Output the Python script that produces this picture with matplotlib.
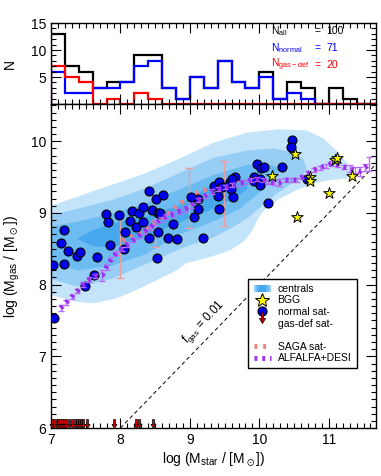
import numpy as np
import matplotlib
matplotlib.use('Agg')
import matplotlib.pyplot as plt
from matplotlib.path import Path
from matplotlib.patches import Rectangle
from matplotlib.lines import Line2D
from matplotlib.legend_handler import HandlerBase
from matplotlib.ticker import MultipleLocator

plt.rcParams['font.family'] = ['Liberation Sans', 'DejaVu Sans']
plt.rcParams['mathtext.default'] = 'regular'
plt.rcParams['mathtext.fontset'] = 'dejavusans'

#%% histogram counts (bins of 0.2 dex starting at 7.0)
n_all = [13, 7, 6, 3, 4, 4, 9, 9, 3, 1, 5, 3, 8, 4, 3, 6, 1, 4, 3, 0, 3, 1, 0, 0]
n_normal = [6, 2, 2, 3, 3, 4, 7, 8, 3, 1, 5, 3, 8, 4, 3, 5, 1, 2, 1, 0, 0, 0, 0, 0]
n_gasdef = [7, 5, 4, 0, 1, 0, 2, 1, 0, 0, 0, 0, 0, 0, 0, 0, 0, 0, 0, 0, 0, 0, 0, 0]

#%% centrals density (contour outlines, outer -> inner)
cen1_x = [6.9, 7.0, 7.39, 7.87, 8.35, 8.83, 9.34, 9.82, 10.29, 10.68, 10.92, 11.11, 11.25, 11.35, 11.38,
          11.25, 11.01, 10.77, 10.54, 10.29, 10.05, 9.96, 9.89, 9.77, 9.58, 9.34, 8.95, 8.81, 8.33, 7.95,
          7.63, 7.39, 7.0, 6.9]
cen1_y = [9.07, 9.10, 9.23, 9.39, 9.55, 9.75, 9.98, 10.12, 10.17, 10.15, 10.04, 9.87, 9.71, 9.57, 9.52,
          9.48, 9.46, 9.41, 9.32, 9.20, 9.02, 8.88, 8.74, 8.60, 8.48, 8.40, 8.30, 8.20, 7.97, 7.81,
          7.74, 7.76, 7.85, 7.88]
cen2_x = [6.9, 7.0, 7.39, 7.87, 8.35, 8.83, 9.34, 9.82, 10.20, 10.49, 10.63, 10.68,
          10.63, 10.44, 10.25, 10.05, 9.82, 9.58, 9.34, 8.86, 8.40, 7.87, 7.39, 7.0, 6.9]
cen2_y = [8.95, 8.97, 9.06, 9.18, 9.34, 9.55, 9.77, 9.87, 9.90, 9.85, 9.76, 9.62,
          9.52, 9.39, 9.27, 9.11, 8.92, 8.78, 8.66, 8.50, 8.30, 8.08, 7.97, 8.08, 8.12]
cen3_x = [6.9, 7.0, 7.39, 7.87, 8.35, 8.83, 9.34, 9.82, 10.10, 10.25, 10.28,
          10.15, 9.96, 9.72, 9.43, 8.86, 8.35, 7.87, 7.39, 7.0, 6.9]
cen3_y = [8.79, 8.81, 8.88, 8.99, 9.13, 9.32, 9.53, 9.67, 9.69, 9.64, 9.55,
          9.41, 9.25, 9.06, 8.92, 8.70, 8.42, 8.26, 8.20, 8.30, 8.33]
cen4_x = [7.37, 7.6, 7.87, 8.35, 8.83, 9.34, 9.67, 9.84, 9.82, 9.67, 9.34, 8.86, 8.35, 7.87, 7.6]
cen4_y = [8.64, 8.76, 8.85, 8.95, 9.10, 9.40, 9.48, 9.43, 9.33, 9.22, 9.06, 8.87, 8.66, 8.52, 8.54]

#%% satellites
normal_x = [7.03, 7.19, 7.15, 7.18, 7.05, 7.25, 7.37, 7.42, 7.49, 7.66, 7.62, 7.79, 7.82, 7.85, 7.98,
            8.06, 8.05, 8.14, 8.17, 8.23, 8.27, 8.33, 8.33, 8.41, 8.45, 8.41, 8.51, 8.54, 8.57, 8.54,
            8.52, 8.61, 8.69, 8.76, 8.81, 9.06, 9.11, 9.12, 9.02, 9.19, 9.34, 9.42, 9.46, 9.41, 9.42,
            9.58, 9.59, 9.65, 9.60, 9.62, 9.97, 9.93, 9.93, 10.03, 10.07, 10.01, 10.01, 10.12, 10.33,
            10.47, 10.46, 10.68]
normal_y = [8.28, 8.29, 8.58, 8.76, 7.54, 8.47, 8.40, 8.46, 7.98, 8.39, 8.14, 8.99, 8.88, 8.55, 8.97,
            8.74, 8.50, 8.89, 9.03, 8.81, 9.00, 9.09, 8.88, 9.31, 9.04, 8.65, 9.19, 9.00, 9.00, 8.74,
            8.37, 9.25, 8.65, 8.84, 8.64, 8.95, 9.05, 9.19, 9.22, 8.65, 9.37, 9.43, 9.36, 9.24, 9.06,
            9.43, 9.34, 9.50, 9.47, 9.22, 9.69, 9.50, 9.45, 9.63, 9.64, 9.48, 9.39, 9.14, 9.64,
            10.02, 9.92, 9.48]
bgg_x = [10.51, 10.18, 10.73, 10.73, 11.09, 11.12, 11.34, 11.01, 10.54]
bgg_y = [9.82, 9.51, 9.50, 9.44, 9.74, 9.77, 9.51, 9.28, 8.95]
gasdef_x = [7.02, 7.05, 7.08, 7.10, 7.13, 7.16, 7.18, 7.22, 7.26, 7.30, 7.34, 7.37,
            7.41, 7.43, 7.46, 7.52, 7.90, 8.22, 8.27, 8.47]
gasdef_y = [6.0] * len(gasdef_x)

#%% SAGA satellites and ALFALFA+DESI relation
saga_x = [8.03, 8.23, 8.50, 8.70, 8.87, 9.05, 9.26, 9.45]
saga_y = [8.61, 8.71, 8.88, 9.00, 9.14, 9.26, 9.34, 9.45]
saga_ebar_x = [8.00, 8.50, 8.99, 9.49]
saga_ebar_lo = [8.09, 8.53, 8.79, 8.82]
saga_ebar_hi = [8.99, 9.20, 9.63, 9.73]

alf_x = [7.14, 7.22, 7.30, 7.38, 7.46, 7.55, 7.64, 7.74, 7.80, 7.87, 7.94, 8.02, 8.10, 8.18, 8.26,
         8.34, 8.42, 8.50, 8.58, 8.66, 8.75, 8.84, 8.93, 9.02, 9.12, 9.22, 9.32, 9.41, 9.50, 9.60,
         9.70, 9.79, 9.88, 9.96, 10.05, 10.13, 10.21, 10.29, 10.37, 10.45, 10.54, 10.62, 10.70,
         10.78, 10.87, 10.96, 11.04, 11.13, 11.22, 11.30, 11.38, 11.45, 11.52, 11.58]
alf_y = [7.67, 7.75, 7.83, 7.91, 8.00, 8.07, 8.12, 8.13, 8.25, 8.36, 8.44, 8.50, 8.56, 8.62, 8.68,
         8.74, 8.79, 8.86, 8.91, 8.95, 8.98, 9.02, 9.05, 9.10, 9.18, 9.24, 9.30, 9.33, 9.36, 9.39,
         9.41, 9.43, 9.46, 9.47, 9.46, 9.43, 9.42, 9.42, 9.46, 9.46, 9.46, 9.50, 9.55,
         9.60, 9.63, 9.66, 9.69, 9.67, 9.64, 9.62, 9.60, 9.58, 9.63, 9.68]
alf_err = [0.04, 0.03, 0.03, 0.03, 0.03, 0.03, 0.03, 0.08, 0.04, 0.03, 0.03, 0.03, 0.03, 0.03, 0.03,
           0.03, 0.03, 0.03, 0.03, 0.03, 0.03, 0.03, 0.03, 0.03, 0.03, 0.03, 0.03, 0.03, 0.03, 0.03,
           0.03, 0.03, 0.03, 0.03, 0.03, 0.03, 0.03, 0.05, 0.03, 0.03, 0.03, 0.03, 0.03,
           0.03, 0.03, 0.03, 0.03, 0.03, 0.03, 0.05, 0.04, 0.06, 0.05, 0.10]
fgas = 0.01

#%% styles
cen_cols = ['#c4e4fa', '#97cef5', '#6cbbf1', '#48a8ed']
# downward arrow, tip at the data point
arrow = Path([(-0.1, 1.0), (0.1, 1.0), (0.1, 0.45), (0.28, 0.45), (0.0, 0.0),
              (-0.28, 0.45), (-0.1, 0.45), (-0.1, 1.0)], closed=True)


class CentralsHandler(HandlerBase):
    def create_artists(self, legend, orig_handle, xd, yd, width, height, fontsize, trans):
        arts = []
        for frac, c in zip([1.0, 0.75, 0.45], cen_cols[1:]):
            arts.append(Rectangle((xd + width * (1 - frac) / 2, yd), width * frac, height,
                                  facecolor=c, edgecolor='none', transform=trans))
        return arts


def style_ticks(ax):
    ax.tick_params(which='both', direction='in', top=True, right=True, labelsize=10)
    ax.tick_params(which='major', length=7, width=0.8)
    ax.tick_params(which='minor', length=3.5, width=0.8)
    for s in ax.spines.values():
        s.set_linewidth(1.0)


fig = plt.figure(figsize=(3.81, 4.76), dpi=100)
axh = fig.add_axes([0.1339, 0.7815, 0.853, 0.170])
ax = fig.add_axes([0.1339, 0.1008, 0.853, 0.6807])

#%% histogram panel
edges = np.round(np.arange(len(n_all) + 1) * 0.2 + 7.0, 2)
axh.stairs(n_all, edges, baseline=0, color='black', lw=1.6)
axh.stairs(n_normal, edges, baseline=0, color='#0000ff', lw=1.6)
axh.stairs(n_gasdef, edges, baseline=0, color='#ff0000', lw=1.6)
axh.set_xlim(7, 11.68)
axh.set_ylim(0, 15)
axh.set_yticks([5, 10, 15])
axh.yaxis.set_minor_locator(MultipleLocator(1))
axh.xaxis.set_major_locator(MultipleLocator(1))
axh.xaxis.set_minor_locator(MultipleLocator(0.1))
axh.set_xticklabels([])
axh.set_ylabel('N', fontsize=10, labelpad=10)
style_ticks(axh)
rows = [(r'N$_{all}$', sum(n_all), 'black'),
        (r'N$_{normal}$', sum(n_normal), '#0000ff'),
        (r'N$_{gas-def}$', sum(n_gasdef), '#ff0000')]
for i, (lab, n, c) in enumerate(rows):
    yy = 13.6 - 3.2 * i
    axh.text(10.17, yy, lab, color=c, fontsize=7.5, va='center')
    axh.text(10.80, yy, '=', color=c, fontsize=7.5, va='center')
    axh.text(10.96, yy, str(n), color=c, fontsize=7.5, va='center')

#%% main panel
for cx, cy, c in zip([cen1_x, cen2_x, cen3_x, cen4_x], [cen1_y, cen2_y, cen3_y, cen4_y], cen_cols):
    ax.fill(cx, cy, color=c, lw=0, zorder=1)

xl = np.array([7.0, 11.8])
ax.plot(xl, xl + np.log10(fgas), ls=(0, (4, 3)), color='black', lw=0.7, zorder=2)
ax.text(9.2, 7.47, r'f$_{gas}$ = 0.01', rotation=46, ha='center', va='center',
        fontsize=8.5, rotation_mode='anchor', zorder=2)

saga_mid = (np.array(saga_ebar_lo) + np.array(saga_ebar_hi)) / 2
saga_half = (np.array(saga_ebar_hi) - np.array(saga_ebar_lo)) / 2
ax.errorbar(saga_ebar_x, saga_mid, yerr=saga_half, fmt='none', ecolor='#eaa0a0',
            elinewidth=1.0, capsize=3, zorder=3)
ax.plot(saga_x, saga_y, ls=(0, (0.6, 1.2)), lw=3.5, color='#f08080',
        solid_capstyle='butt', dash_capstyle='butt', zorder=3)

ax.scatter(normal_x, normal_y, s=42, c='#0000ee', edgecolors='black', linewidths=0.8, zorder=4)

ax.errorbar(alf_x, alf_y, yerr=alf_err, fmt='none', ecolor='#b86cf5', elinewidth=1.0,
            capsize=2.5, zorder=5)
ax.plot(alf_x, alf_y, ls=(0, (0.6, 1.0)), lw=3.5, color='#9b30f2',
        dash_capstyle='butt', zorder=5)

ax.scatter(bgg_x, bgg_y, s=75, marker='*', c='#ffff00', edgecolors='black', linewidths=0.7, zorder=6)
ax.plot(gasdef_x, gasdef_y, ls='none', marker=arrow, markersize=13, markerfacecolor='#cc0000',
        markeredgecolor='black', markeredgewidth=0.5, clip_on=False, zorder=6)

ax.set_xlim(7, 11.68)
ax.set_ylim(6.0, 10.52)
ax.xaxis.set_major_locator(MultipleLocator(1))
ax.xaxis.set_minor_locator(MultipleLocator(0.1))
ax.yaxis.set_major_locator(MultipleLocator(1))
ax.yaxis.set_minor_locator(MultipleLocator(0.1))
style_ticks(ax)
ax.set_xlabel(r'log (M$_{star}$ / [M$_\odot$])', fontsize=10, labelpad=3)
ax.set_ylabel(r'log (M$_{gas}$ / [M$_\odot$])', fontsize=10, labelpad=6)

#%% legend
h_cen = Rectangle((0, 0), 1, 1)
h_bgg = Line2D([], [], ls='none', marker='*', ms=10, mfc='#ffff00', mec='black', mew=0.7)
h_norm = Line2D([], [], ls='none', marker='o', ms=6.5, mfc='#0000ee', mec='black', mew=0.8)
h_def = Line2D([], [], ls='none', marker=arrow, ms=16, mfc='#cc0000', mec='black', mew=0.5)
h_blank = Line2D([], [], color='none')
h_saga = Line2D([], [], ls=(0, (0.6, 1.2)), lw=3.5, color='#f08080')
h_alf = Line2D([], [], ls=(0, (0.6, 1.0)), lw=3.5, color='#9b30f2')
leg = ax.legend([h_cen, h_bgg, h_norm, h_def, h_blank, h_saga, h_alf],
                ['centrals', 'BGG', 'normal sat-', 'gas-def sat-', ' ', 'SAGA sat-', 'ALFALFA+DESI'],
                handler_map={Rectangle: CentralsHandler()},
                loc='upper right', bbox_to_anchor=(0.956, 0.477), fontsize=7.5,
                frameon=True, fancybox=False, edgecolor='black', framealpha=1,
                handlelength=1.7, handletextpad=0.6, labelspacing=0.15, borderpad=0.5)
leg.get_frame().set_linewidth(1.0)
leg.set_zorder(10)

fig.savefig('out.png', dpi=100)
